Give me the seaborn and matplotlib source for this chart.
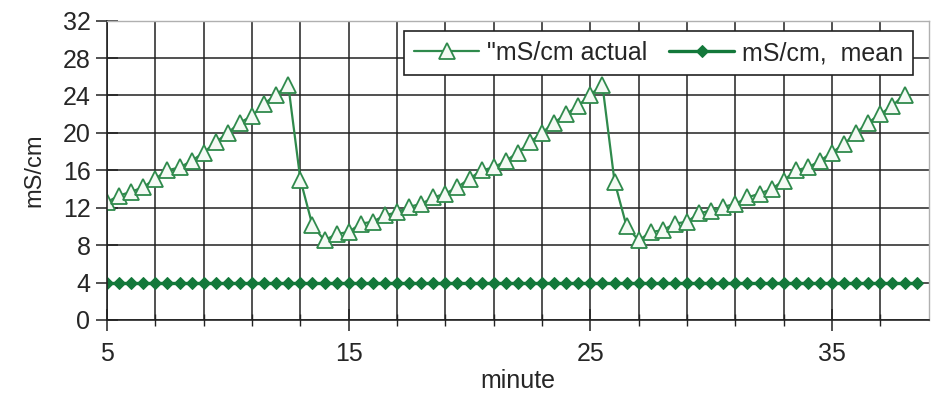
import matplotlib
matplotlib.use('Agg')
import matplotlib.pyplot as plt
import numpy as np
import pandas as pd
import seaborn as sns

# minutes sampled every half minute
actual_minute = [5, 5.5, 6, 6.5, 7, 7.5, 8, 8.5, 9, 9.5, 10, 10.5, 11, 11.5, 12, 12.5,
                 13, 13.5, 14, 14.5,
                 15, 15.5, 16, 16.5, 17, 17.5, 18, 18.5, 19, 19.5, 20, 20.5, 21, 21.5,
                 22, 22.5, 23, 23.5, 24, 24.5, 25, 25.5,
                 26, 26.5, 27,
                 27.5, 28, 28.5, 29, 29.5, 30, 30.5, 31, 31.5, 32, 32.5, 33, 33.5, 34,
                 34.5, 35, 35.5, 36, 36.5, 37, 37.5, 38]
actual_ms = [12.6, 13.3, 13.7, 14.2, 15.1, 16.0, 16.3, 17.0, 17.9, 19.0, 20.0, 21.1, 21.8, 23.1, 24.1, 25.1,
             15.0, 10.1, 8.5, 9.2,
             9.4, 10.3, 10.5, 11.2, 11.5, 12.1, 12.4, 13.1, 13.5, 14.2, 15.1, 16.0, 16.3, 17.0,
             17.9, 19.0, 20.0, 21.1, 22.0, 22.9, 24.1, 25.1,
             14.8, 10.0, 8.5,
             9.4, 9.6, 10.3, 10.5, 11.4, 11.7, 12.1, 12.4, 13.1, 13.5, 14.0, 14.9, 16.0, 16.3,
             17.0, 17.9, 18.8, 20.0, 21.1, 22.0, 22.9, 24.1]
mean_minute = actual_minute + [38.5]
mean_ms = [4.0] * len(mean_minute)

actual_label = '"mS/cm actual'
mean_label = 'mS/cm,  mean'

sns.set_style('white')
plt.rcParams['font.family'] = ['Liberation Sans', 'DejaVu Sans']

fig = plt.figure(figsize=(9.39, 3.96), dpi=100)
ax = fig.add_axes([0.114, 0.192, 0.875, 0.756])

df_actual = pd.DataFrame({'minute': actual_minute, 'value': actual_ms})
df_mean = pd.DataFrame({'minute': mean_minute, 'value': mean_ms})

sns.lineplot(data=df_actual, x='minute', y='value', ax=ax, color='#2f8a4c', lw=1.6,
             marker='^', markersize=12, markerfacecolor='#f4faf4', markeredgecolor='#2f8a4c',
             markeredgewidth=1.3, label=actual_label)
sns.lineplot(data=df_mean, x='minute', y='value', ax=ax, color='#13783a', lw=2.4,
             marker='D', markersize=6.5, markeredgecolor='#13783a', label=mean_label)

ax.set_xlim(5, 39)
ax.set_ylim(0, 32)
ax.set_yticks(np.arange(0, 33, 4))
ax.set_xticks([5, 15, 25, 35])
ax.set_xticks(np.arange(7, 39, 2), minor=True)
ax.grid(True, which='both', color='#222222', lw=1.1)
ax.set_axisbelow(True)
ax.tick_params(axis='both', which='both', bottom=True, left=True)
ax.tick_params(axis='x', which='major', direction='inout', length=16, width=1.1,
               color='#222222', labelsize=18, pad=8)
ax.tick_params(axis='x', which='minor', direction='inout', length=8, width=1.0, color='#222222')
ax.tick_params(axis='y', which='major', direction='inout', length=16, width=1.1,
               color='#222222', labelsize=18, pad=4)

for side in ['left', 'bottom']:
    ax.spines[side].set_color('#222222')
    ax.spines[side].set_linewidth(1.2)
for side in ['top', 'right']:
    ax.spines[side].set_color('#b0b0b0')
    ax.spines[side].set_linewidth(1.0)

ax.set_xlabel('minute', fontsize=18, labelpad=2)
ax.set_ylabel('mS/cm', fontsize=17, labelpad=12)

leg = ax.legend(loc='upper right', ncol=2, fontsize=18, frameon=True, fancybox=False,
                framealpha=1, edgecolor='#222222', borderpad=0.4, handlelength=2.6,
                columnspacing=0.9, handletextpad=0.3, borderaxespad=0.3,
                bbox_to_anchor=(0.99, 0.99))
leg.get_frame().set_linewidth(1.2)

fig.savefig('out.png', dpi=100)
